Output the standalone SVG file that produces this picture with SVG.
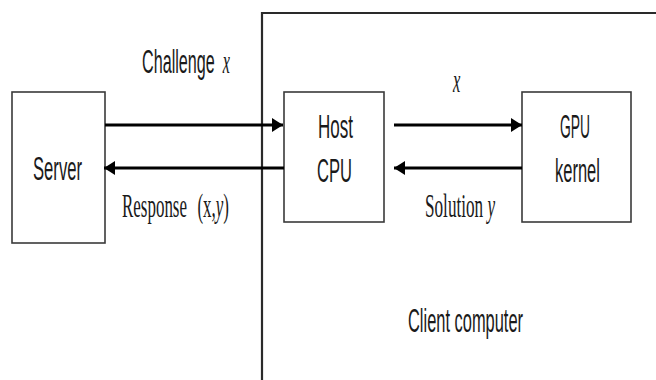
<svg xmlns="http://www.w3.org/2000/svg" width="656" height="380" viewBox="0 0 656 380">
<defs>
<style>
.box{fill:#fff;stroke:#3a3a3a;stroke-width:1.6}
.frame{fill:none;stroke:#2a2a2a;stroke-width:2.2}
.conn{stroke:#000;stroke-width:3;fill:none}
.sans{font-family:"Liberation Sans",Arial,sans-serif;font-size:33px;fill:#1a1a1a}
.serif{font-family:"Liberation Serif","Times New Roman",serif;font-size:33px;fill:#1a1a1a}
.it{font-style:italic}
</style>
<marker id="ah" markerUnits="userSpaceOnUse" markerWidth="12" markerHeight="16" refX="11" refY="8" orient="auto">
<path d="M0,1 L11,8 L0,15 z" fill="#000"/>
</marker>
</defs>
<rect width="656" height="380" fill="#fff"/>
<g id="client-computer">
<path class="frame" d="M262,380 V13 H656"/>
<text class="sans" transform="translate(408,332) scale(0.498,1)">Client computer</text>
</g>
<g id="server">
<rect class="box" x="12" y="92" width="93" height="151"/>
<text class="sans" transform="translate(33,180) scale(0.504,1)">Server</text>
</g>
<g id="host-cpu">
<rect class="box" x="284" y="92" width="100" height="130"/>
<text class="sans" transform="translate(318,138) scale(0.516,1)">Host</text>
<text class="sans" transform="translate(317,182) scale(0.502,1)">CPU</text>
</g>
<g id="gpu-kernel">
<rect class="box" x="522" y="92" width="109" height="130"/>
<text class="sans" transform="translate(560,138) scale(0.42,1)">GPU</text>
<text class="sans" transform="translate(555,182) scale(0.5,1)">kernel</text>
</g>
<g id="connectors">
<line class="conn" x1="105" y1="125" x2="283" y2="125" marker-end="url(#ah)"/>
<line class="conn" x1="284" y1="168" x2="104" y2="168" marker-end="url(#ah)"/>
<line class="conn" x1="394" y1="125" x2="522" y2="125" marker-end="url(#ah)"/>
<line class="conn" x1="522" y1="168" x2="394" y2="168" marker-end="url(#ah)"/>
<text class="sans" transform="translate(142,73) scale(0.49,1)">Challenge <tspan class="serif it" dx="7">x</tspan></text>
<text class="serif it" transform="translate(453,92) scale(0.5,1)">x</text>
<text class="serif" transform="translate(122,217) scale(0.514,1)">Response <tspan dx="12">(x,<tspan class="it">y</tspan>)</tspan></text>
<text class="serif" transform="translate(425,217) scale(0.52,1)">Solution <tspan class="it">y</tspan></text>
</g>
</svg>
